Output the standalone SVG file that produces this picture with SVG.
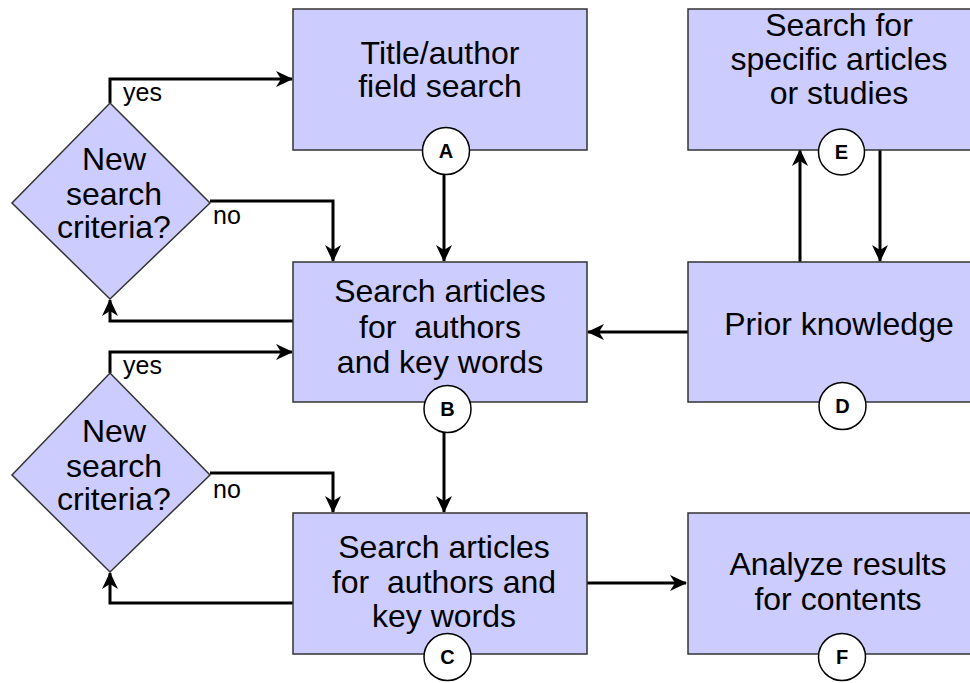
<svg xmlns="http://www.w3.org/2000/svg" width="970" height="683" viewBox="0 0 970 683">
  <style>
    .box { fill: #ccccff; stroke: #333333; stroke-width: 1.5; }
    .lbl { font-family: "Liberation Sans", Arial, sans-serif; font-size: 32px; fill: #000; text-anchor: middle; }
    .small { font-family: "Liberation Sans", Arial, sans-serif; font-size: 25px; fill: #000; }
    .circ { fill: #ffffff; stroke: #000; stroke-width: 1.5; }
    .cl { font-family: "Liberation Sans", Arial, sans-serif; font-size: 20px; font-weight: bold; fill: #000; text-anchor: middle; }
    .conn { fill: none; stroke: #000; stroke-width: 3; }
  </style>
  <defs>
    <marker id="arr" markerUnits="userSpaceOnUse" markerWidth="18" markerHeight="16" refX="16" refY="8" orient="auto">
      <path d="M0,0 L17,8 L0,16 L5,8 z" fill="#000"/>
    </marker>
  </defs>
  <rect width="970" height="683" fill="#ffffff"/>

  <g id="connectors">
    <path class="conn" d="M110,103 V79 H292" marker-end="url(#arr)"/>
    <path class="conn" d="M210,201 H333 V261" marker-end="url(#arr)"/>
    <path class="conn" d="M293,321 H110 V300" marker-end="url(#arr)"/>
    <path class="conn" d="M110,373 V352 H292" marker-end="url(#arr)"/>
    <path class="conn" d="M210,473 H333 V512" marker-end="url(#arr)"/>
    <path class="conn" d="M293,603 H110 V573" marker-end="url(#arr)"/>
    <path class="conn" d="M444,174 V261" marker-end="url(#arr)"/>
    <path class="conn" d="M444,432 V512" marker-end="url(#arr)"/>
    <path class="conn" d="M688,332 H588" marker-end="url(#arr)"/>
    <path class="conn" d="M800,262 V150" marker-end="url(#arr)"/>
    <path class="conn" d="M880,150 V261" marker-end="url(#arr)"/>
    <path class="conn" d="M587,583 H686" marker-end="url(#arr)"/>
    <text class="small" x="123" y="101">yes</text>
    <text class="small" x="213" y="224">no</text>
    <text class="small" x="123" y="374">yes</text>
    <text class="small" x="213" y="498">no</text>
  </g>

  <g id="nodeA">
    <rect class="box" x="293" y="9" width="294" height="141"/>
    <text class="lbl" x="440" y="64">Title/author</text>
    <text class="lbl" x="440" y="97">field search</text>
    <circle class="circ" cx="446" cy="151" r="23.5"/>
    <text class="cl" x="446" y="158">A</text>
  </g>

  <g id="nodeB">
    <rect class="box" x="293" y="262" width="294" height="140"/>
    <text class="lbl" x="440" y="302">Search articles</text>
    <text class="lbl" x="440" y="338" xml:space="preserve">for  authors</text>
    <text class="lbl" x="440" y="373">and key words</text>
    <circle class="circ" cx="447.5" cy="409" r="23.5"/>
    <text class="cl" x="447.5" y="416">B</text>
  </g>

  <g id="nodeC">
    <rect class="box" x="293" y="513" width="294" height="141"/>
    <text class="lbl" x="444" y="558">Search articles</text>
    <text class="lbl" x="444" y="593" xml:space="preserve">for  authors and</text>
    <text class="lbl" x="444" y="627">key words</text>
    <circle class="circ" cx="447.5" cy="657" r="23.5"/>
    <text class="cl" x="447.5" y="664">C</text>
  </g>

  <g id="nodeD">
    <rect class="box" x="688" y="262" width="310" height="140"/>
    <text class="lbl" x="839" y="335">Prior knowledge</text>
    <circle class="circ" cx="842.5" cy="406" r="23.5"/>
    <text class="cl" x="842.5" y="413">D</text>
  </g>

  <g id="nodeE">
    <rect class="box" x="688" y="9" width="310" height="141"/>
    <text class="lbl" x="839" y="36">Search for</text>
    <text class="lbl" x="839" y="70">specific articles</text>
    <text class="lbl" x="839" y="104">or studies</text>
    <circle class="circ" cx="841.5" cy="152" r="23"/>
    <text class="cl" x="841.5" y="159">E</text>
  </g>

  <g id="nodeF">
    <rect class="box" x="688" y="513" width="310" height="141"/>
    <text class="lbl" x="838" y="575">Analyze results</text>
    <text class="lbl" x="838" y="610">for contents</text>
    <circle class="circ" cx="842" cy="657" r="23.5"/>
    <text class="cl" x="842" y="664">F</text>
  </g>

  <g id="decision1">
    <polygon class="box" points="110,103 210,203 110,299 12,203"/>
    <text class="lbl" x="114" y="170">New</text>
    <text class="lbl" x="114" y="205">search</text>
    <text class="lbl" x="114" y="238">criteria?</text>
  </g>

  <g id="decision2">
    <polygon class="box" points="110,373 210,475 110,572 12,475"/>
    <text class="lbl" x="114" y="442">New</text>
    <text class="lbl" x="114" y="477">search</text>
    <text class="lbl" x="114" y="510">criteria?</text>
  </g>
</svg>
